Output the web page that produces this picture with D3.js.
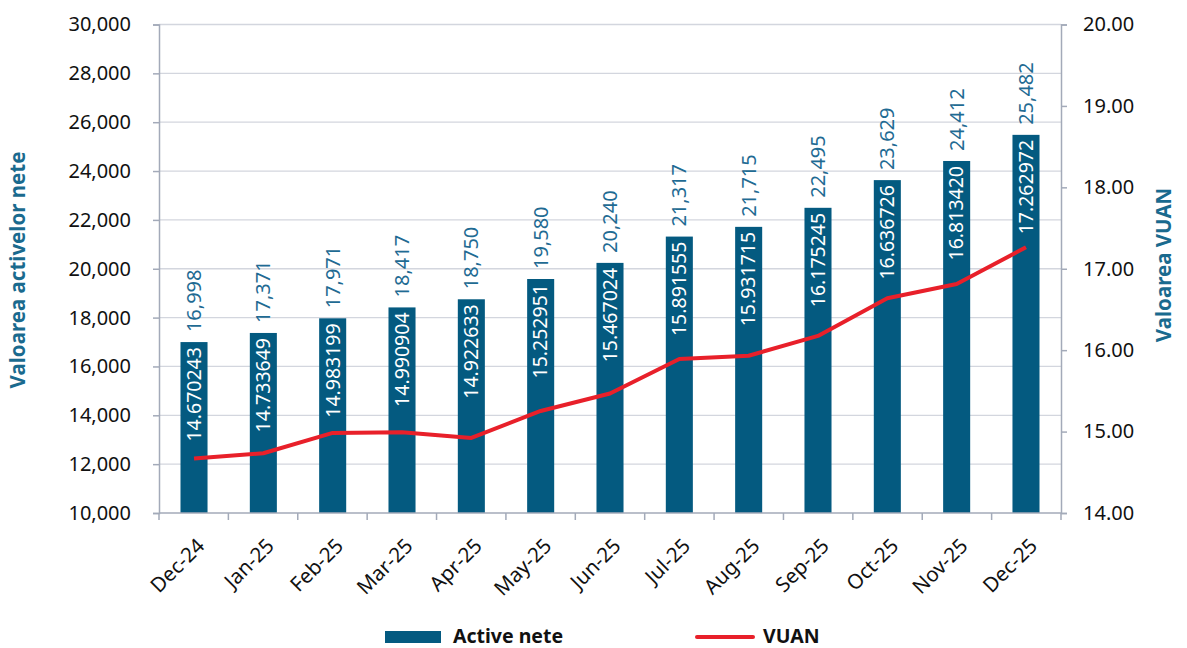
<!DOCTYPE html>
<html>
<head>
<meta charset="utf-8">
<script src="https://cdn.jsdelivr.net/npm/d3@7"></script>
<style>
  body { margin: 0; background: #fff; }
  svg text { font-family: "Noto Sans", sans-serif; }
</style>
</head>
<body>
<svg id="chart" width="1187" height="648"></svg>
<script>
// data
var months = ["Dec-24","Jan-25","Feb-25","Mar-25","Apr-25","May-25","Jun-25","Jul-25","Aug-25","Sep-25","Oct-25","Nov-25","Dec-25"];
var activeNete = [16998,17371,17971,18417,18750,19580,20240,21317,21715,22495,23629,24412,25482];
var vuan = [14.670243,14.733649,14.983199,14.990904,14.922633,15.252951,15.467024,15.891555,15.931715,16.175245,16.636726,16.813420,17.262972];
var leftTicks = [10000,12000,14000,16000,18000,20000,22000,24000,26000,28000,30000];
var rightTicks = [14,15,16,17,18,19,20];

var barColor = "#045a80", lineColor = "#e8202a", titleColor = "#1a6a8e";
var svg = d3.select("#chart");

var x0 = 159, x1 = 1061, yTop = 24.5, yBot = 513;

var x = d3.scaleBand().domain(months).range([x0, x1]).paddingInner(0.61).paddingOuter(0.31);
var band = d3.scaleBand().domain(months).range([x0, x1]);
var yL = d3.scaleLinear().domain([10000, 30000]).range([yBot, yTop]);
var yR = d3.scaleLinear().domain([14, 20]).range([yBot, yTop]);

// gridlines
svg.append("g").selectAll("line").data(leftTicks.slice(1)).join("line")
  .attr("x1", x0).attr("x2", x1)
  .attr("y1", function(d){ return yL(d); }).attr("y2", function(d){ return yL(d); })
  .attr("stroke", "#d3d6de").attr("stroke-width", 1.3);

// bars
svg.append("g").selectAll("rect").data(activeNete).join("rect")
  .attr("x", function(d,i){ return x(months[i]); })
  .attr("width", x.bandwidth())
  .attr("y", function(d){ return yL(d); })
  .attr("height", function(d){ return yBot - yL(d); })
  .attr("fill", barColor);

// axes
var axisCol = "#a3aab9";
var gl = svg.append("g").attr("transform", "translate(" + x0 + ",0)")
  .call(d3.axisLeft(yL).tickValues(leftTicks).tickFormat(d3.format(",")).tickSize(6).tickPadding(22));
var gr = svg.append("g").attr("transform", "translate(" + x1 + ",0)")
  .call(d3.axisRight(yR).tickValues(rightTicks).tickFormat(d3.format(".2f")).tickSize(6).tickPadding(16));
[gl, gr].forEach(function(g){
  g.select(".domain").attr("stroke", axisCol).attr("stroke-width", 1.5);
  g.selectAll(".tick line").attr("stroke", axisCol).attr("stroke-width", 1.5);
  g.selectAll(".tick text").attr("fill", "#111").style("font-size", "20px");
});

// x axis with ticks at category boundaries
var gx = svg.append("g").attr("transform", "translate(0," + yBot + ")");
gx.append("line").attr("x1", x0).attr("x2", x1).attr("stroke", axisCol).attr("stroke-width", 1.5);
gx.selectAll("line.tk").data(months.concat(["end"])).join("line").attr("class", "tk")
  .attr("x1", function(d,i){ return x0 + i * band.bandwidth(); })
  .attr("x2", function(d,i){ return x0 + i * band.bandwidth(); })
  .attr("y1", 0).attr("y2", 7).attr("stroke", axisCol).attr("stroke-width", 1.5);
gx.selectAll("text").data(months).join("text")
  .attr("transform", function(d){ return "translate(" + (band(d) + band.bandwidth()/2 + 2) + ",24) rotate(-45)"; })
  .attr("text-anchor", "end").attr("dy", "0.7em")
  .style("font-size", "20.5px").attr("fill", "#111")
  .text(function(d){ return d; });

// VUAN line
var line = d3.line()
  .x(function(d,i){ return x(months[i]) + x.bandwidth()/2; })
  .y(function(d){ return yR(d); });
svg.append("path").datum(vuan).attr("d", line)
  .attr("fill", "none").attr("stroke", lineColor).attr("stroke-width", 4).attr("stroke-linejoin", "round");

// labels above bars
svg.append("g").selectAll("text").data(activeNete).join("text")
  .attr("transform", function(d,i){ return "translate(" + (x(months[i]) + x.bandwidth()/2) + "," + (yL(d) - 10) + ") rotate(-90)"; })
  .attr("dy", "0.35em").attr("text-anchor", "start")
  .attr("fill", "#1f6b93").style("font-size", "20px")
  .text(function(d){ return d3.format(",")(d); });

// VUAN labels inside bars
svg.append("g").selectAll("text").data(vuan).join("text")
  .attr("transform", function(d,i){ return "translate(" + (x(months[i]) + x.bandwidth()/2) + "," + (yL(activeNete[i]) + 5) + ") rotate(-90)"; })
  .attr("dy", "0.35em").attr("text-anchor", "end")
  .attr("fill", "#fff").style("font-size", "19.5px")
  .text(function(d){ return d.toFixed(6); });

// axis titles
svg.append("text").attr("transform", "translate(25,270) rotate(-90)")
  .attr("text-anchor", "middle").attr("fill", titleColor)
  .style("font-size", "20.5px").style("font-weight", "bold")
  .text("Valoarea activelor nete");
svg.append("text").attr("transform", "translate(1171,265) rotate(-90)")
  .attr("text-anchor", "middle").attr("fill", titleColor)
  .style("font-size", "20.5px").style("font-weight", "bold")
  .text("Valoarea VUAN");

// legend
var lg = svg.append("g");
lg.append("rect").attr("x", 385).attr("y", 631).attr("width", 56).attr("height", 12).attr("fill", barColor);
lg.append("text").attr("x", 453).attr("y", 643).style("font-size", "19.5px").style("font-weight", "bold").attr("fill", "#111").text("Active nete");
lg.append("line").attr("x1", 697).attr("x2", 753).attr("y1", 637).attr("y2", 637).attr("stroke", lineColor).attr("stroke-width", 4).attr("stroke-linecap", "round");
lg.append("text").attr("x", 763).attr("y", 643).style("font-size", "19.5px").style("font-weight", "bold").attr("fill", "#111").text("VUAN");
</script>
</body>
</html>
